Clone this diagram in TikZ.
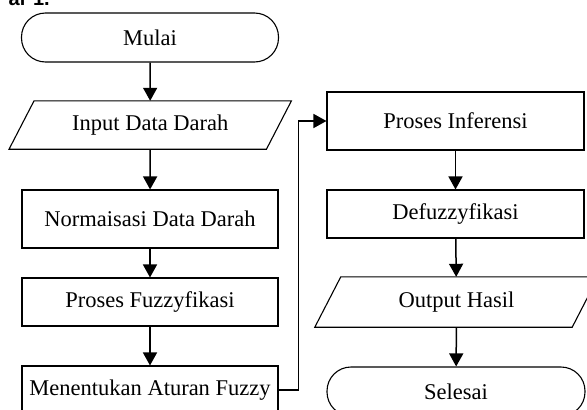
\documentclass[tikz,border=0pt]{standalone}
\usepackage{fontspec}
\setmainfont{Liberation Serif}
\newfontfamily\capfont{Liberation Sans}
\usetikzlibrary{arrows.meta}
\begin{document}
\begin{tikzpicture}[x=1pt,y=-1pt,
  every node/.style={font=\fontsize{22.5}{27}\selectfont, inner sep=0pt},
  proc/.style={draw, line width=1.1pt, rectangle, minimum width=256pt},
  term/.style={draw, line width=1.1pt, rectangle, rounded corners=24pt, minimum width=257pt, minimum height=49pt},
  io/.style={rectangle, minimum width=257pt, minimum height=48pt},
  para/.style={line width=1.1pt, line join=miter},
  arr/.style={line width=1.5pt, -{Triangle[width=14pt,length=13pt]}}
]
\useasboundingbox (0,0) rectangle (587,410);
\clip (0,0) rectangle (587,410);

\node[font=\capfont\bfseries\fontsize{20}{24}\selectfont, anchor=base east] (cap) at (50,5) {ar 1.};

\node[term] (mulai) at (150,37.5) {Mulai};
\node[io] (input) at (150.25,125) {Input Data Darah};
\draw[para] ([xshift=-12.5pt]input.south west) -- ([xshift=12.5pt]input.north west) -- ([xshift=12.5pt]input.north east) -- ([xshift=-12.5pt]input.south east) -- cycle;
\node[proc, minimum height=58pt] (norm) at (150,219) {Normaisasi Data Darah};
\node[proc, minimum height=48pt] (fuzz) at (150,302) {Proses Fuzzyfikasi};
\node[proc, minimum height=48pt] (aturan) at (150,390) {Menentukan Aturan Fuzzy};

\node[proc, minimum width=257pt, minimum height=58pt] (infer) at (455.5,121) {Proses Inferensi};
\node[proc, minimum width=257pt, minimum height=48pt] (defuz) at (455.5,214) {Defuzzyfikasi};
\node[io, minimum height=50pt] (output) at (456.5,302) {Output Hasil};
\draw[para] ([xshift=-13pt]output.south west) -- ([xshift=13pt]output.north west) -- ([xshift=13pt]output.north east) -- ([xshift=-13pt]output.south east) -- cycle;
\node[term, minimum width=258pt] (selesai) at (456,391.5) {Selesai};

\draw[arr] (mulai) -- (input);
\draw[arr] (input) -- (norm);
\draw[arr] (norm) -- (fuzz);
\draw[arr] (fuzz) -- (aturan);
\draw[arr] (aturan.east) -- ++(20,0) |- (infer.west);
\draw[arr] (infer) -- (defuz);
\draw[arr] (defuz) -- (output);
\draw[arr] (output) -- (selesai);
\end{tikzpicture}
\end{document}
